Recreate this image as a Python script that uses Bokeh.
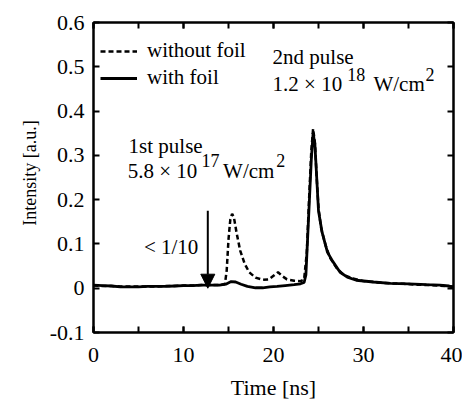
from bokeh.plotting import figure
from bokeh.models import (LinearAxis, SingleIntervalTicker, FixedTicker, Label, Arrow,
                          NormalHead, Legend, LegendItem, Range1d)
from bokeh.embed import file_html
from bokeh.resources import INLINE

# ---------------- data ----------------
t_without = [0, 1, 2, 3, 4, 5, 6, 7, 8, 9, 10, 11, 12, 13, 14, 14.6, 14.8, 15.0, 15.2, 15.4,
             15.6, 15.9, 16.3, 16.8, 17.3, 18.0, 18.8, 19.5, 20.0, 20.5, 21.0, 21.5, 22.3,
             23.0, 23.4, 23.7, 23.95, 24.2, 24.4, 24.6, 24.8, 25.0, 25.3, 25.8, 26.3, 27.0,
             27.8, 28.8, 30.0, 31.5, 33.0, 34.5, 36.0, 37.5, 39.0, 40.0]
i_without = [0.006, 0.005, 0.005, 0.004, 0.004, 0.004, 0.004, 0.004, 0.005, 0.005, 0.006,
             0.006, 0.007, 0.007, 0.007, 0.009, 0.04, 0.11, 0.155, 0.168,
             0.16, 0.125, 0.085, 0.055, 0.036, 0.024, 0.019, 0.02, 0.028, 0.036, 0.027, 0.02,
             0.017, 0.016, 0.02, 0.08, 0.2, 0.31, 0.36, 0.33, 0.25, 0.18, 0.135, 0.096, 0.068,
             0.046, 0.03, 0.022, 0.016, 0.013, 0.011, 0.01, 0.008, 0.007, 0.005, 0.004]

t_with = [0, 1, 2, 3, 4, 5, 6, 7, 8, 9, 10, 11, 12, 13, 14, 14.7, 15.3, 15.8, 16.4, 17.1,
          18.0, 18.8, 19.6, 20.4, 21.3, 22.3, 23.0, 23.4, 23.6, 23.9, 24.2, 24.4, 24.6, 24.8,
          25.0, 25.2, 25.4, 26.0, 26.6, 27.4, 28.2, 29.2, 31.1, 33.0, 35.0, 37.0, 38.5, 39.5, 40.0]
i_with = [0.007, 0.006, 0.005, 0.003, 0.003, 0.003, 0.004, 0.004, 0.004, 0.005, 0.006, 0.006,
          0.007, 0.007, 0.007, 0.009, 0.015, 0.014, 0.009, 0.004,
          0.001, 0.001, 0.003, 0.004, 0.006, 0.008, 0.01, 0.013, 0.03, 0.16, 0.29, 0.35, 0.325,
          0.25, 0.175, 0.15, 0.126, 0.081, 0.06, 0.036, 0.025, 0.018, 0.014, 0.011, 0.01, 0.008,
          0.007, 0.005, 0.002]

x_ticks = [0, 10, 20, 30, 40]
y_ticks = [-0.1, 0, 0.1, 0.2, 0.3, 0.4, 0.5, 0.6]
y_tick_labels = ["-0.1", "0", "0.1", "0.2", "0.3", "0.4", "0.5", "0.6"]
series_names = ["without foil", "with foil"]
x_title = "Time [ns]"
y_title = "Intensity [a.u.]"

# ---------------- figure ----------------
FONT = "Times New Roman"
FS = "22px"

p = figure(width=462, height=406, output_backend="svg", toolbar_location=None,
           x_range=Range1d(0, 40), y_range=Range1d(-0.1, 0.6),
           min_border_left=93, min_border_right=9, min_border_top=22, min_border_bottom=74,
           x_axis_label=x_title,
           y_axis_label="\u00a0\u00a0" + y_title)
p.grid.visible = False
p.outline_line_color = "black"
p.outline_line_width = 2
p.background_fill_color = "white"
p.border_fill_color = "white"


def style_axis(ax, show_labels=True):
    ax.axis_line_color = "black"
    ax.axis_line_width = 2
    ax.major_tick_in = 6
    ax.major_tick_out = 0
    ax.minor_tick_in = 6
    ax.minor_tick_out = 0
    ax.major_tick_line_width = 2
    ax.minor_tick_line_width = 2
    ax.major_tick_line_color = "black"
    ax.minor_tick_line_color = "black"
    ax.major_label_text_font = FONT
    ax.major_label_text_color = "black"
    ax.major_label_text_font_size = FS
    ax.axis_label_text_font = FONT
    ax.axis_label_text_font_size = FS
    ax.axis_label_text_font_style = "normal"
    ax.axis_label_text_color = "black"
    if not show_labels:
        ax.major_label_standoff = 0


xt = SingleIntervalTicker(interval=10, num_minor_ticks=2)
yt = FixedTicker(ticks=y_ticks, minor_ticks=[])

p.xaxis[0].ticker = xt
p.yaxis[0].ticker = yt
p.yaxis[0].major_label_overrides = dict(zip(y_ticks, y_tick_labels))
style_axis(p.xaxis[0])
style_axis(p.yaxis[0])
p.xaxis[0].major_label_standoff = 15
p.xaxis[0].axis_label_standoff = 10
p.yaxis[0].major_label_standoff = 9
p.yaxis[0].axis_label_standoff = 7
p.yaxis[0].axis_label_text_font_size = "18px"

top = LinearAxis(ticker=SingleIntervalTicker(interval=10, num_minor_ticks=2))
style_axis(top, False)
top.major_label_overrides = {t: "" for t in x_ticks}
p.add_layout(top, "above")
right = LinearAxis(ticker=FixedTicker(ticks=y_ticks, minor_ticks=[]))
style_axis(right, False)
right.major_label_overrides = {t: "" for t in y_ticks}
p.add_layout(right, "right")

r1 = p.line(t_without, i_without, line_color="black", line_width=2.5, line_dash="5 3")
r2 = p.line(t_with, i_with, line_color="black", line_width=2.8)

legend = Legend(items=[LegendItem(label=series_names[0], renderers=[r1]),
                       LegendItem(label=series_names[1], renderers=[r2])],
                location=(7, 242), margin=0, padding=0, spacing=2,
                label_height=24, glyph_height=24, glyph_width=37, label_standoff=10,
                label_text_font=FONT, label_text_font_size="21px", label_text_color="black",
                border_line_color=None, background_fill_alpha=0)
p.add_layout(legend, "center")


def lab(x, y, text, size="21px"):
    p.add_layout(Label(x=x, y=y, text=text, text_font=FONT, text_font_size=size,
                       text_color="black", text_align="left", text_baseline="alphabetic"))


SUP = "18px"
lab(19.9, 0.521, "2nd pulse")
lab(19.9, 0.462, "1.2 \u00d7 10")
lab(28.2, 0.483, "18", SUP)
lab(31.1, 0.462, "W/cm")
lab(36.9, 0.483, "2", SUP)

lab(3.9, 0.322, "1st pulse")
lab(3.8, 0.264, "5.8 \u00d7 10")
lab(12.0, 0.288, "17", SUP)
lab(14.4, 0.264, "W/cm")
lab(20.3, 0.288, "2", SUP)

lab(5.6, 0.093, "< 1/10")

p.add_layout(Arrow(end=NormalHead(size=14, fill_color="black", line_color="black", line_width=1),
                   x_start=12.7, y_start=0.175, x_end=12.7, y_end=0.0,
                   line_color="black", line_width=2))

open("out.html", "w").write(file_html(p, INLINE))
